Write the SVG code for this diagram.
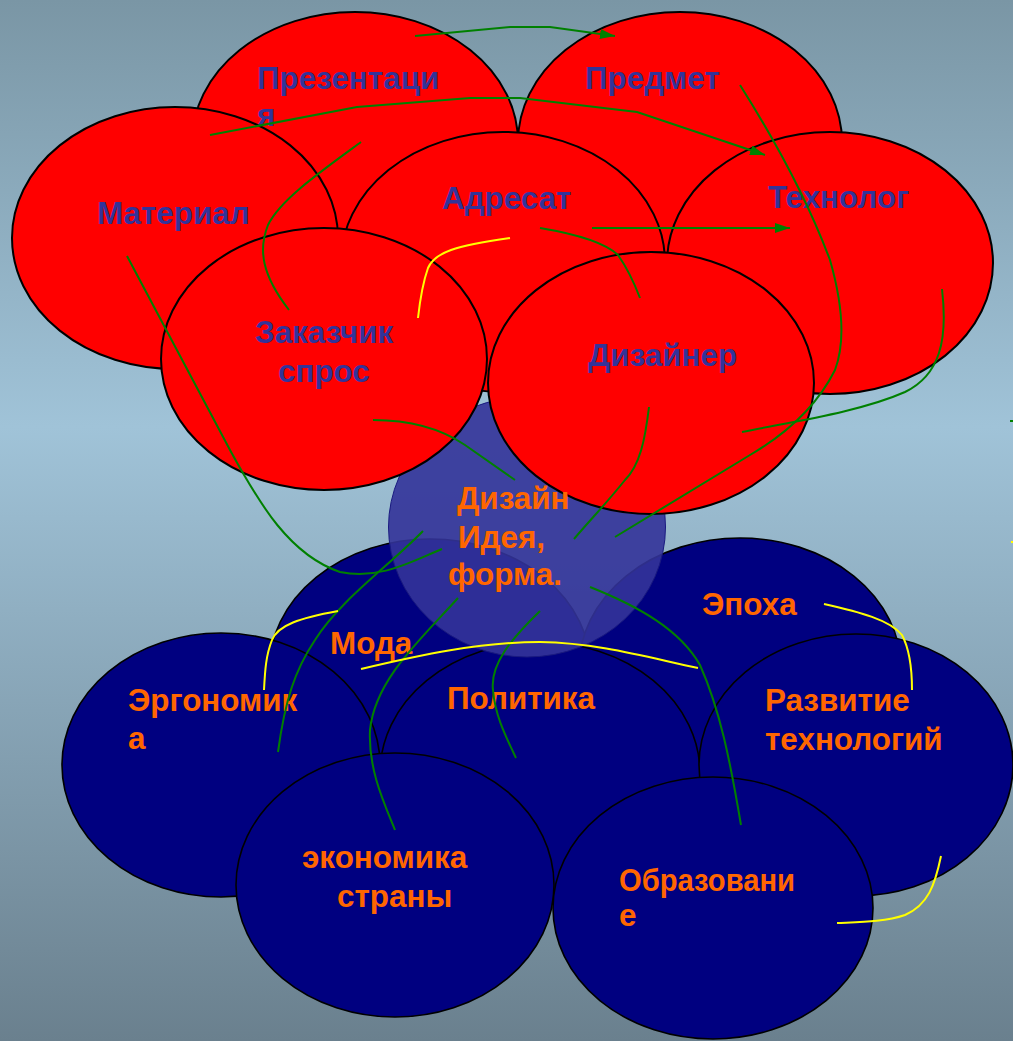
<svg xmlns="http://www.w3.org/2000/svg" width="1013" height="1041" viewBox="0 0 1013 1041">
<defs>
<linearGradient id="bg" x1="0" y1="0" x2="0" y2="1">
<stop offset="0" stop-color="#7a96a5"/>
<stop offset="0.41" stop-color="#a0c3d8"/>
<stop offset="1" stop-color="#6a808e"/>
</linearGradient>
<marker id="arr" markerUnits="userSpaceOnUse" markerWidth="16" markerHeight="11" refX="15" refY="5" orient="auto">
<path d="M0,0 L15,5 L0,10 z" fill="#008000"/>
</marker>
</defs>
<style>
.red{fill:#ff0000;stroke:#000;stroke-width:2}
.blue{fill:#000080;stroke:#000;stroke-width:1.6}
.core{fill:#333399;fill-opacity:0.9;stroke:#1a1a80;stroke-width:1}
text{font-family:"Liberation Sans",Arial,sans-serif;font-weight:bold;font-size:31.4px}
.tb{fill:#333399}
.to{fill:#ff6600}
.g{fill:none;stroke:#008000;stroke-width:2}
.y{fill:none;stroke:#ffff00;stroke-width:2}
</style>
<rect x="0" y="0" width="1013" height="1041" fill="url(#bg)"/>

<g id="node-moda"><ellipse class="blue" cx="430" cy="670" rx="161" ry="131"/><text class="to" x="330" y="654">Мода</text></g>
<g id="node-epoha"><ellipse class="blue" cx="740" cy="668" rx="161" ry="130"/><text class="to" x="702" y="615">Эпоха</text></g>
<g id="node-ergonomika"><ellipse class="blue" cx="221" cy="765" rx="159" ry="132"/><text class="to" x="128" y="711">Эргономик</text><text class="to" x="128" y="749">а</text></g>
<g id="node-politika"><ellipse class="blue" cx="540" cy="773" rx="160" ry="131"/><text class="to" x="447" y="709">Политика</text></g>
<g id="node-razvitie"><ellipse class="blue" cx="856" cy="765" rx="157" ry="131"/><text class="to" x="765" y="711">Развитие</text><text class="to" x="765" y="750">технологий</text></g>
<g id="node-ekonomika"><ellipse class="blue" cx="395" cy="885" rx="159" ry="132"/><text class="to" x="302" y="868">экономика</text><text class="to" x="337" y="907">страны</text></g>
<g id="node-obrazovanie"><ellipse class="blue" cx="713" cy="908" rx="160" ry="131"/><text class="to" x="619" y="891" textLength="176" lengthAdjust="spacingAndGlyphs">Образовани</text><text class="to" x="619" y="926">е</text></g>

<g id="node-dizain"><ellipse class="core" cx="527" cy="527" rx="138.5" ry="130"/></g>

<g id="node-prezentacia"><ellipse class="red" cx="355" cy="142" rx="163" ry="130"/><text class="tb" x="257" y="89">Презентаци</text><text class="tb" x="257" y="126">я</text></g>
<g id="node-predmet"><ellipse class="red" cx="680" cy="142" rx="162" ry="130"/><text class="tb" x="585" y="89">Предмет</text></g>
<g id="node-material"><ellipse class="red" cx="175" cy="238" rx="163" ry="131"/><text class="tb" x="97" y="224">Материал</text></g>
<g id="node-adresat"><ellipse class="red" cx="503" cy="262" rx="162" ry="130"/><text class="tb" x="442" y="209">Адресат</text></g>
<g id="node-tehnolog"><ellipse class="red" cx="830" cy="263" rx="163" ry="131"/><text class="tb" x="768" y="208">Технолог</text></g>
<g id="node-zakazchik"><ellipse class="red" cx="324" cy="359" rx="163" ry="131"/><text class="tb" x="255" y="343">Заказчик</text><text class="tb" x="278" y="382">спрос</text></g>
<g id="node-dizainer"><ellipse class="red" cx="651" cy="383" rx="163" ry="131"/><text class="tb" x="588" y="366">Дизайнер</text></g>

<g id="node-dizain-label"><text class="to" x="457" y="509">Дизайн</text><text class="to" x="458" y="548">Идея,</text><text class="to" x="448" y="585">форма.</text></g>

<g id="connectors">
<path class="g" d="M415,36 L510,27 L550,27 L615,36" marker-end="url(#arr)"/>
<path class="g" d="M210,135 L357,107 L470,98 L520,98 L637,112 L765,155" marker-end="url(#arr)"/>
<path class="g" d="M592,228 L790,228" marker-end="url(#arr)"/>
<path class="g" d="M361,142 C320,172 280,200 268,225 C258,250 262,275 289,310"/>
<path class="g" d="M127,256 L230,450 C260,505 290,555 340,572 C380,580 410,562 442,549"/>
<path class="g" d="M540,228 Q600,238 618,255 Q630,272 640,298"/>
<path class="g" d="M740,85 Q800,180 830,260 Q850,330 835,370 Q810,420 750,455 L615,537"/>
<path class="g" d="M942,289 C948,340 940,375 905,392 C860,412 790,422 742,432"/>
<path class="g" d="M649,407 C645,440 640,465 625,480 C605,505 590,520 574,539"/>
<path class="g" d="M373,420 C410,420 440,428 465,445 L515,480"/>
<path class="g" d="M423,531 C390,565 340,600 315,640 C295,670 285,700 278,752"/>
<path class="g" d="M458,598 C420,640 375,680 370,730 C368,770 385,805 395,830"/>
<path class="g" d="M540,611 C510,640 490,665 493,690 C495,715 505,735 516,758"/>
<path class="g" d="M590,587 C640,607 680,630 700,665 C720,710 730,760 741,825"/>
<path class="g" d="M1010,421 L1016,421"/>
<path class="y" d="M510,238 C455,246 435,252 428,268 C422,285 420,300 418,318"/>
<path class="y" d="M338,611 C300,618 278,625 272,640 C266,655 265,670 264,690"/>
<path class="y" d="M361,669 C420,655 480,642 540,642 C600,643 650,658 698,668"/>
<path class="y" d="M824,604 C860,612 890,620 902,635 C910,650 912,670 912,690"/>
<path class="y" d="M941,856 C935,885 928,905 905,915 C885,922 860,922 837,923"/>
<path class="y" d="M1011,542 L1016,542"/>
</g>
</svg>
